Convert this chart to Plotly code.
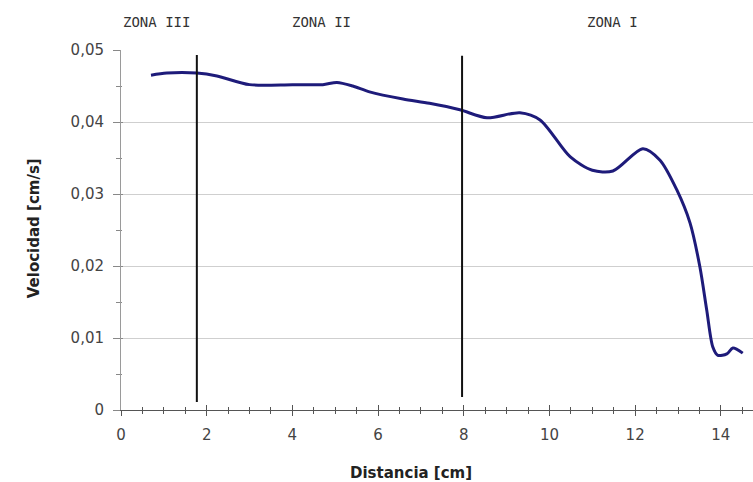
import plotly.graph_objects as go

# Data
distancia = [0.70, 1.07, 1.77, 2.24, 3.0, 4.0, 4.71, 5.04, 5.41, 5.8, 6.58, 7.2, 7.91,
             8.54, 9.31, 9.78, 10.48, 11.0, 11.48, 12.18, 12.58, 12.97, 13.28, 13.51,
             13.67, 13.81, 13.93, 14.14, 14.28, 14.51]
velocidad = [0.0465, 0.0468, 0.0468, 0.0464, 0.0452, 0.0452, 0.0452, 0.0455, 0.0450, 0.0442,
             0.0432, 0.0426, 0.0417, 0.0406, 0.0413, 0.0403, 0.0352, 0.0333, 0.0332, 0.0363,
             0.0347, 0.0306, 0.0260, 0.0199, 0.0139, 0.0088, 0.0076, 0.0078, 0.0086, 0.0079]

zone_bounds_x = [1.77, 7.96]
zone_line_bottom = [0.0011, 0.0018]
zone_line_top = [0.0493, 0.0492]

zone_labels = ["ZONA III", "ZONA II", "ZONA I"]
zone_label_x = [0.82, 4.69, 11.48]

x_ticks = [0, 2, 4, 6, 8, 10, 12, 14]
y_ticks = [0, 0.01, 0.02, 0.03, 0.04, 0.05]
y_tick_text = ["0", "0,01", "0,02", "0,03", "0,04", "0,05"]

XR = [0, 14.75]
YR = [0, 0.05001]

fig = go.Figure()

fig.add_trace(go.Scatter(
    x=distancia, y=velocidad, mode="lines",
    line=dict(color="#1e1b7a", width=3, shape="spline", smoothing=0.8),
    showlegend=False, hoverinfo="skip"))

for bx, b0, b1 in zip(zone_bounds_x, zone_line_bottom, zone_line_top):
    fig.add_trace(go.Scatter(
        x=[bx, bx], y=[b0, b1], mode="lines",
        line=dict(color="#111111", width=2),
        showlegend=False, hoverinfo="skip"))

# invisible copy on overlay axes so the inside (crossing) tick marks get drawn
fig.add_trace(go.Scatter(x=distancia, y=velocidad, xaxis="x2", yaxis="y2", mode="lines",
                         line=dict(width=0, color="rgba(0,0,0,0)"), opacity=0,
                         showlegend=False, hoverinfo="skip"))

font_family = "DejaVu Sans, Arial, sans-serif"
tick_color = "#555555"

for lx, lt in zip(zone_label_x, zone_labels):
    fig.add_annotation(
        x=lx, y=1.0, xref="x", yref="paper", yanchor="bottom", yshift=18,
        text=lt, showarrow=False,
        font=dict(family="DejaVu Sans Mono, monospace", size=14, color="#333333"))

fig.add_annotation(
    x=6.77, xref="x", y=0, yref="paper", yanchor="middle", yshift=-63,
    text="<b>Distancia [cm]</b>", showarrow=False,
    font=dict(family=font_family, size=15, color="#222222"))

fig.add_annotation(
    x=0, xref="paper", xshift=-98, y=0.505, yref="paper",
    text="<b>Velocidad [cm/s]</b>", textangle=-90, showarrow=False,
    font=dict(family=font_family, size=15, color="#222222"))

fig.update_layout(
    width=753, height=482,
    margin=dict(l=121, r=0, t=50, b=72),
    paper_bgcolor="white", plot_bgcolor="white",
    separators=",.",
    showlegend=False,
    xaxis=dict(
        range=XR, tickvals=x_ticks, showgrid=False, zeroline=False,
        showline=True, linecolor="#555555", linewidth=1,
        ticks="outside", ticklen=5, tickcolor=tick_color, tickwidth=1,
        minor=dict(dtick=0.5, ticks="outside", ticklen=3, tickcolor=tick_color, showgrid=False),
        tickfont=dict(family=font_family, size=15, color="#444444"),
        ticklabelstandoff=6,
    ),
    yaxis=dict(
        range=YR, tickvals=y_ticks, ticktext=y_tick_text,
        showgrid=True, gridcolor="#cfcfcf", gridwidth=1, zeroline=False,
        showline=True, linecolor="#9a9a9a", linewidth=1,
        ticks="outside", ticklen=7, tickcolor="#888888", tickwidth=1,
        minor=dict(dtick=0.005, tick0=0, ticks="outside", ticklen=4, tickcolor="#888888", showgrid=False),
        tickfont=dict(family=font_family, size=15, color="#444444"),
        ticklabelstandoff=6,
    ),
    xaxis2=dict(
        range=XR, overlaying="x", anchor="y2", side="bottom",
        showgrid=False, zeroline=False, showline=False, showticklabels=False,
        tickvals=x_ticks, ticks="inside", ticklen=5, tickcolor=tick_color,
        minor=dict(dtick=0.5, ticks="inside", ticklen=3, tickcolor=tick_color, showgrid=False),
    ),
    yaxis2=dict(
        range=YR, overlaying="y", anchor="x2", side="left",
        showgrid=False, zeroline=False, showline=False, showticklabels=False,
        tickvals=y_ticks, ticks="inside", ticklen=2, tickcolor="#888888",
        minor=dict(dtick=0.005, tick0=0, ticks="inside", ticklen=1, tickcolor="#888888", showgrid=False),
    ),
)

fig.write_html("out.html")
